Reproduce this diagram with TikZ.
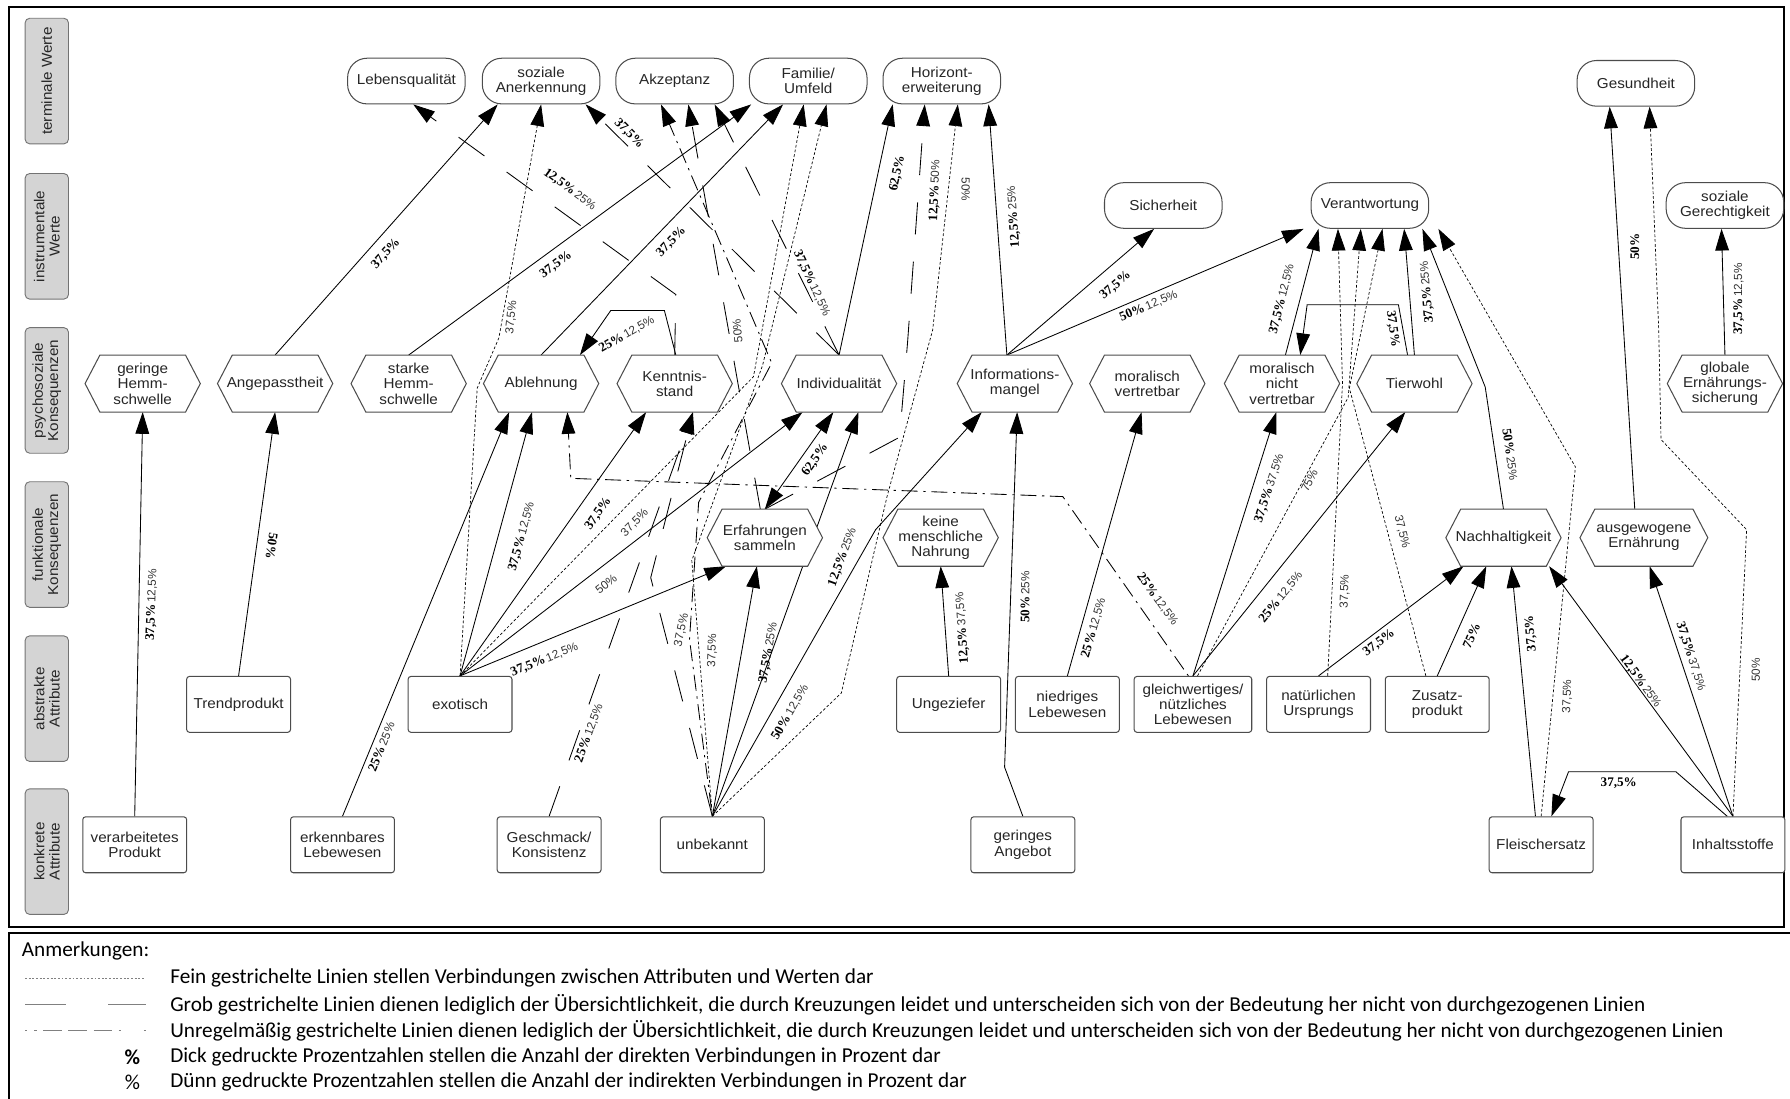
\documentclass[tikz,border=0pt]{standalone}
\usepackage{fontspec}
\setmainfont{Liberation Sans}
\newfontfamily\nodefont{Liberation Sans}[FakeStretch=1.06]
\newfontfamily\notefont{Carlito}
\newfontfamily\pctfont{Liberation Serif}
\usetikzlibrary{arrows.meta,calc}
\pgfdeclarelayer{edges}
\pgfdeclarelayer{shapes}
\pgfsetlayers{edges,shapes,main}
\newcommand\boldpct[1]{{\pctfont\bfseries\fontsize{11.5}{12}\selectfont #1}}
\newcommand\thinpct[1]{{\color{black!80}\fontsize{10.3}{11}\selectfont #1}}

\begin{document}
\begin{tikzpicture}[x=1pt,y=-1pt,
  >={Triangle[length=19pt,width=12pt]},
  txt/.style={font=\nodefont\fontsize{12.6}{13.4}\selectfont, text=black!85, align=center},
  val/.style={txt, draw=black!70, line width=0.9pt, fill=white, rounded corners=17pt,
    minimum width=103pt, minimum height=40pt, inner sep=1pt},
  cons/.style={txt, minimum width=101pt, minimum height=50pt, inner sep=0.5pt, outer sep=0pt},
  hexline/.style={draw=black!70, line width=0.9pt, fill=white},
  attr/.style={txt, draw=black!70, line width=0.9pt, fill=white, rounded corners=2.5pt,
    minimum width=91pt, minimum height=49pt, inner sep=1pt},
  lvl/.style={txt, rotate=90, draw=black!55, line width=0.8pt, fill=black!17, rounded corners=4pt,
    minimum width=110pt, minimum height=38pt, inner sep=1pt},
  pct/.style={inner sep=0.5pt},
  lnk/.style={->, line width=0.75pt},
  fine/.style={->, line width=0.6pt, dash pattern=on 2.4pt off 1.8pt},
  coarse/.style={->, line width=0.75pt, dash pattern=on 28pt off 24pt},
  dashdot/.style={->, line width=0.75pt, dash pattern=on 2pt off 5pt on 14pt off 5pt},
  note/.style={font=\notefont\fontsize{18.6}{20}\selectfont, anchor=west, inner sep=0pt},
]
\useasboundingbox (0,0) rectangle (1568,962);

% frames
\draw[line width=1.6pt] (8,6) rectangle (1563,812);
\draw[line width=1.6pt] (8,817) rectangle (1580,990);

% level captions
\node[lvl] (lv1) at (41,71) {terminale Werte};
\node[lvl] (lv2) at (41,207) {instrumentale\\Werte};
\node[lvl] (lv3) at (41,342) {psychosoziale\\Konsequenzen};
\node[lvl] (lv4) at (41,477) {funktionale\\Konsequenzen};
\node[lvl] (lv5) at (41,612) {abstrakte\\Attribute};
\node[lvl] (lv6) at (41,746) {konkrete\\Attribute};

% terminal values
\node[val] (lq) at (356,71) {Lebensqualität};
\node[val] (sa) at (474,71) {soziale\\Anerkennung};
\node[val] (ak) at (591,71) {Akzeptanz};
\node[val] (fu) at (708,71) {Familie/\\Umfeld};
\node[val] (hz) at (825,71) {Horizont-\\erweiterung};
\node[val] (ge) at (1433,73) {Gesundheit};
% instrumental values
\node[val] (si) at (1019,180) {Sicherheit};
\node[val] (ve) at (1200,180) {Verantwortung};
\node[val] (sg) at (1511,180) {soziale\\Gerechtigkeit};

% psychosocial consequences
\node[cons] (gh) at (125,336) {geringe\\Hemm-\\schwelle};
\node[cons] (an) at (241,336) {Angepasstheit};
\node[cons] (sh) at (358,336) {starke\\Hemm-\\schwelle};
\node[cons] (ab) at (474,336) {Ablehnung};
\node[cons] (ke) at (591,336) {Kenntnis-\\stand};
\node[cons] (in) at (735,336) {Individualität};
\node[cons] (im) at (889,336) {Informations-\\mangel};
\node[cons] (mv) at (1005,336) {moralisch\\vertretbar};
\node[cons] (mn) at (1123,336) {moralisch\\nicht\\vertretbar};
\node[cons] (tw) at (1239,336) {Tierwohl};
\node[cons] (gl) at (1511,336) {globale\\Ernährungs-\\sicherung};
% functional consequences
\node[cons] (es) at (670,471) {Erfahrungen\\sammeln};
\node[cons] (km) at (824,471) {keine\\menschliche\\Nahrung};
\node[cons] (na) at (1317,471) {Nachhaltigkeit};
\node[cons, minimum width=112pt] (ae) at (1440,471) {ausgewogene\\Ernährung};

% abstract attributes
\node[attr] (tp) at (209,617) {Trendprodukt};
\node[attr] (ex) at (403,617) {exotisch};
\node[attr] (ug) at (831,617) {Ungeziefer};
\node[attr] (nl) at (935,617) {niedriges\\Lebewesen};
\node[attr, minimum width=103pt] (gw) at (1045,617) {gleichwertiges/\\nützliches\\Lebewesen};
\node[attr] (nu) at (1155,617) {natürlichen\\Ursprungs};
\node[attr] (zp) at (1259,617) {Zusatz-\\produkt};
% concrete attributes
\node[attr] (vp) at (118,740) {verarbeitetes\\Produkt};
\node[attr] (el) at (300,740) {erkennbares\\Lebewesen};
\node[attr] (gk) at (481,740) {Geschmack/\\Konsistenz};
\node[attr] (ub) at (624,740) {unbekannt};
\node[attr] (ga) at (896,740) {geringes\\Angebot};
\node[attr] (fs) at (1350,740) {Fleischersatz};
\node[attr] (is) at (1518,740) {Inhaltsstoffe};

% hexagonal outlines of the consequences
\begin{pgfonlayer}{shapes}
\foreach \n in {gh,an,sh,ab,ke,in,im,mv,mn,tw,gl,es,km,na,ae}
  \draw[hexline] ([xshift=13pt]\n.north west) -- ([xshift=-13pt]\n.north east) -- (\n.east)
    -- ([xshift=-13pt]\n.south east) -- ([xshift=13pt]\n.south west) -- (\n.west) -- cycle;
\end{pgfonlayer}

\begin{pgfonlayer}{edges}
% left part
\draw[lnk] (vp.north) -- (gh.south);
\draw[lnk] (tp.north) -- (an.south);
\draw[lnk] (an.north) -- ([xshift=-38pt]sa.south);
\draw[lnk] (sh.north) -- ([xshift=-50pt]fu.south);
\draw[lnk] (ab.north) -- ([xshift=-22pt]fu.south);
\draw[lnk] ([xshift=1pt]ke.north) -- (582,272) -- (535,272) -- ([xshift=34pt]ab.north);
\draw[coarse] (ke.north) -- (592,258) -- ([xshift=6pt]lq.south);
\draw[coarse] (in.north) -- ([xshift=39pt]sa.south);
\draw[coarse] (in.north) -- ([xshift=35pt]ak.south);
\draw[lnk] (in.north) -- ([xshift=-43pt]hz.south);
\draw[fine] (ex.north) -- (418,340) -- (437,296) -- (sa.south);
\draw[lnk] (el.north) -- ([xshift=-28pt]ab.south);
\draw[lnk] (ex.north) -- ([xshift=-8pt]ab.south);
\draw[lnk] (ex.north) -- ([xshift=-25pt]ke.south);
\draw[lnk] (ex.north) -- ([xshift=-32pt]in.south);
\draw[lnk] (ex.north) -- ([xshift=-34pt]es.south);
\draw[fine] (ex.north) -- (660,330) -- ([xshift=-4pt]fu.south);
\draw[coarse] (gk.north) -- ([xshift=16pt]ke.south);
\draw[dashdot] ([xshift=-4pt]gw.north) -- (931,435) -- (500,419) -- ([xshift=23pt]ab.south);
% around "Erfahrungen sammeln"
\draw[{Triangle[length=19pt,width=12pt]}-{Triangle[length=19pt,width=12pt]}, line width=0.75pt]
  (es.north) -- ([xshift=-5pt]in.south);
\draw[coarse] (es.north) -- (788,383) -- (795,300) -- ([xshift=-15pt]hz.south);
\draw[coarse] ([xshift=-4pt]es.north) -- ([xshift=12pt]ak.south);
% from "unbekannt"
\draw[lnk] (ub.north) -- ([xshift=-7pt]es.south);
\draw[lnk] (ub.north) -- ([xshift=17pt]in.south);
\draw[lnk] (ub.north) -- (767,464) -- ([xshift=-29pt]im.south);
\draw[fine] (ub.north) -- (737,607) -- (777,435) -- (817,289) -- ([xshift=14pt]hz.south);
\draw[fine] (ub.north) -- (606,491) -- (668,320) -- ([xshift=16pt]fu.south);
\draw[coarse] (ub.north) -- (570,506) -- ([xshift=16pt]ke.south);
\draw[dashdot] (ub.north) -- (604,560) -- (612,440) -- (676,318) -- ([xshift=-12pt]ak.south);
% "Informationsmangel" and neighbours
\draw[lnk] ([xshift=-7pt]im.north) -- ([xshift=41pt]hz.south);
\draw[lnk] ([xshift=-7pt]im.north) -- ([xshift=-8pt]si.south);
\draw[lnk] ([xshift=-7pt]im.north) -- ([xshift=-58pt]ve.south);
\draw[lnk] (ga.north) -- (880,672) -- ([xshift=2pt]im.south);
\draw[lnk] (ug.north) -- (km.south);
\draw[lnk] (nl.north) -- ([xshift=-5pt]mv.south);
% right part
\draw[lnk] (gw.north) -- ([xshift=-5pt]mn.south);
\draw[lnk] (gw.north) -- ([xshift=-8pt]tw.south);
\draw[fine] ([xshift=4pt]gw.north) -- (1181,348) -- ([xshift=-8pt]ve.south);
\draw[lnk] (nu.north) -- ([xshift=-35pt]na.south);
\draw[fine] ([xshift=8pt]nu.north) -- (1176,336) -- ([xshift=-28pt]ve.south);
\draw[lnk] (zp.north) -- ([xshift=-15pt]na.south);
\draw[fine] ([xshift=-10pt]zp.north) -- (1182,340) -- ([xshift=11pt]ve.south);
\draw[lnk] (tw.north) -- ([xshift=30pt]ve.south);
\draw[lnk] ([xshift=-6pt]tw.north) -- (1225,267) -- (1145,267) -- ([xshift=16pt]mn.north);
\draw[lnk] ([xshift=3pt]mn.north) -- ([xshift=-45pt]ve.south);
\draw[lnk] (na.north) -- (1301,339) -- ([xshift=46pt]ve.south);
\draw[fine] (fs.north) -- (1380,409) -- ([xshift=60pt]ve.south);
\draw[lnk] ([xshift=-5pt]fs.north) -- ([xshift=7pt]na.south);
\draw[lnk] (is.north) -- ([xshift=40pt]na.south);
\draw[lnk] (is.north) -- ([xshift=5pt]ae.south);
\draw[lnk] ([xshift=-5pt]is.north) -- (1468,676) -- (1374,676) -- ([xshift=9pt]fs.north);
\draw[fine] (is.north) -- (1530,464) -- (1455,385) -- (1453,289) -- ([xshift=12pt]ge.south);
\draw[lnk] ([xshift=-8pt]ae.north) -- ([xshift=-23pt]ge.south);
\draw[lnk] (gl.north) -- ([xshift=-3pt]sg.south);
\end{pgfonlayer}

% percentages
\node[pct, rotate=88]  (l1)  at (133,530) {\boldpct{37,5\%}\,\thinpct{12,5\%}};
\node[pct, rotate=-98] (l2)  at (238,478) {\boldpct{50\%}};
\node[pct, rotate=48]  (l3)  at (338,222) {\boldpct{37,5\%}};
\node[pct, rotate=36]  (l4)  at (487,232) {\boldpct{37,5\%}};
\node[pct, rotate=46]  (l5)  at (588,212) {\boldpct{37,5\%}};
\node[pct, rotate=30]  (l6)  at (549,293) {\boldpct{25\%}\,\thinpct{12,5\%}};
\node[pct, rotate=-36] (l7)  at (499,166) {\boldpct{12,5\%}\,\thinpct{25\%}};
\node[pct, rotate=-45] (l8)  at (551,117) {\boldpct{37,5\%}};
\node[pct, rotate=84]  (l9)  at (448,278) {\thinpct{37,5\%}};
\node[pct, rotate=68]  (l10) at (334,654) {\boldpct{25\%}\,\thinpct{25\%}};
\node[pct, rotate=75]  (l11) at (457,470) {\boldpct{37,5\%}\,\thinpct{12,5\%}};
\node[pct, rotate=55]  (l12) at (524,450) {\boldpct{37,5\%}};
\node[pct, rotate=38]  (l13) at (531,512) {\thinpct{50\%}};
\node[pct, rotate=22]  (l14) at (477,578) {\boldpct{37,5\%}\,\thinpct{12,5\%}};
\node[pct, rotate=70]  (l15) at (516,642) {\boldpct{25\%}\,\thinpct{12,5\%}};
\node[pct, rotate=-54] (l16) at (1014,525) {\boldpct{25\%}\,\thinpct{12,5\%}};
\node[pct, rotate=55]  (l17) at (714,403) {\boldpct{62,5\%}};
\node[pct, rotate=88]  (l18) at (819,167) {\boldpct{12,5\%}\,\thinpct{50\%}};
\node[pct, rotate=95]  (l19) at (646,290) {\thinpct{50\%}};
\node[pct, rotate=80]  (l20) at (673,572) {\boldpct{37,5\%}\,\thinpct{25\%}};
\node[pct, rotate=70]  (l21) at (738,488) {\boldpct{12,5\%}\,\thinpct{25\%}};
\node[pct, rotate=60]  (l22) at (692,624) {\boldpct{50\%}\,\thinpct{12,5\%}};
\node[pct, rotate=-90] (l23) at (846,166) {\thinpct{50\%}};
\node[pct, rotate=88]  (l24) at (624,570) {\thinpct{37,5\%}};
\node[pct, rotate=78]  (l25) at (597,552) {\thinpct{37,5\%}};
\node[pct, rotate=45]  (l26) at (556,458) {\thinpct{37,5\%}};
\node[pct, rotate=78]  (l27) at (786,152) {\boldpct{62,5\%}};
\node[pct, rotate=-65] (l28) at (711,248) {\boldpct{37,5\%}\,\thinpct{12,5\%}};
\node[pct, rotate=94]  (l29) at (888,190) {\boldpct{12,5\%}\,\thinpct{25\%}};
\node[pct, rotate=41]  (l30) at (977,250) {\boldpct{37,5\%}};
\node[pct, rotate=23]  (l31) at (1006,268) {\boldpct{50\%}\,\thinpct{12,5\%}};
\node[pct, rotate=90]  (l32) at (898,523) {\boldpct{50\%}\,\thinpct{25\%}};
\node[pct, rotate=94]  (l33) at (843,550) {\boldpct{12,5\%}\,\thinpct{37,5\%}};
\node[pct, rotate=74]  (l34) at (958,550) {\boldpct{25\%}\,\thinpct{12,5\%}};
\node[pct, rotate=72]  (l35) at (1112,428) {\boldpct{37,5\%}\,\thinpct{37,5\%}};
\node[pct, rotate=51]  (l36) at (1122,523) {\boldpct{25\%}\,\thinpct{12,5\%}};
\node[pct, rotate=64]  (l37) at (1147,421) {\thinpct{75\%}};
\node[pct, rotate=37]  (l38) at (1208,563) {\boldpct{37,5\%}};
\node[pct, rotate=88]  (l39) at (1178,518) {\thinpct{37,5\%}};
\node[pct, rotate=66]  (l40) at (1289,557) {\boldpct{75\%}};
\node[pct, rotate=-76] (l41) at (1228,466) {\thinpct{37,5\%}};
\node[pct, rotate=95]  (l42) at (1250,256) {\boldpct{37,5\%}\,\thinpct{25\%}};
\node[pct, rotate=-82] (l43) at (1220,288) {\boldpct{37,5\%}};
\node[pct, rotate=76]  (l44) at (1123,262) {\boldpct{37,5\%}\,\thinpct{12,5\%}};
\node[pct, rotate=-82] (l45) at (1323,398) {\boldpct{50\%}\,\thinpct{25\%}};
\node[pct, rotate=88]  (l46) at (1373,610) {\thinpct{37,5\%}};
\node[pct, rotate=95]  (l47) at (1341,555) {\boldpct{37,5\%}};
\node[pct, rotate=-54] (l48) at (1437,597) {\boldpct{12,5\%}\,\thinpct{25\%}};
\node[pct, rotate=-72] (l49) at (1481,575) {\boldpct{37,5\%}\,\thinpct{37,5\%}};
\node[pct]             (l50) at (1418,686) {\boldpct{37,5\%}};
\node[pct, rotate=90]  (l51) at (1538,587) {\thinpct{50\%}};
\node[pct, rotate=90]  (l52) at (1432,216) {\boldpct{50\%}};
\node[pct, rotate=90]  (l53) at (1523,262) {\boldpct{37,5\%}\,\thinpct{12,5\%}};

% notes below the diagram
\node[note] (anm) at (19,833) {Anmerkungen:};
\draw[black!50, line width=0.9pt, dash pattern=on 1.6pt off 1.6pt] (22,857) -- (126,857);
\draw[black!50, line width=1pt] (22,880) -- (58,880) (95,880) -- (128,880);
\draw[black!50, line width=1pt, dash pattern=on 2pt off 6pt on 2pt off 6pt on 16pt off 6pt on 16pt off 6pt on 16pt off 6pt on 2pt off 20pt]
  (22,903) -- (130,903);
\node[inner sep=0pt] (pb) at (116,926) {\notefont\bfseries\fontsize{18.6}{20}\selectfont\%};
\node[inner sep=0pt] (pn) at (116,948) {\notefont\fontsize{18.6}{20}\selectfont\%};
\node[note] (n1) at (149,857) {Fein gestrichelte Linien stellen Verbindungen zwischen Attributen und Werten dar};
\node[note] (n2) at (149,880) {Grob gestrichelte Linien dienen lediglich der Übersichtlichkeit, die durch Kreuzungen leidet und unterscheiden sich von der Bedeutung her nicht von durchgezogenen Linien};
\node[note] (n3) at (149,903) {Unregelmäßig gestrichelte Linien dienen lediglich der Übersichtlichkeit, die durch Kreuzungen leidet und unterscheiden sich von der Bedeutung her nicht von durchgezogenen Linien};
\node[note] (n4) at (149,926) {Dick gedruckte Prozentzahlen stellen die Anzahl der direkten Verbindungen in Prozent dar};
\node[note] (n5) at (149,948) {Dünn gedruckte Prozentzahlen stellen die Anzahl der indirekten Verbindungen in Prozent dar};
\end{tikzpicture}
\end{document}
